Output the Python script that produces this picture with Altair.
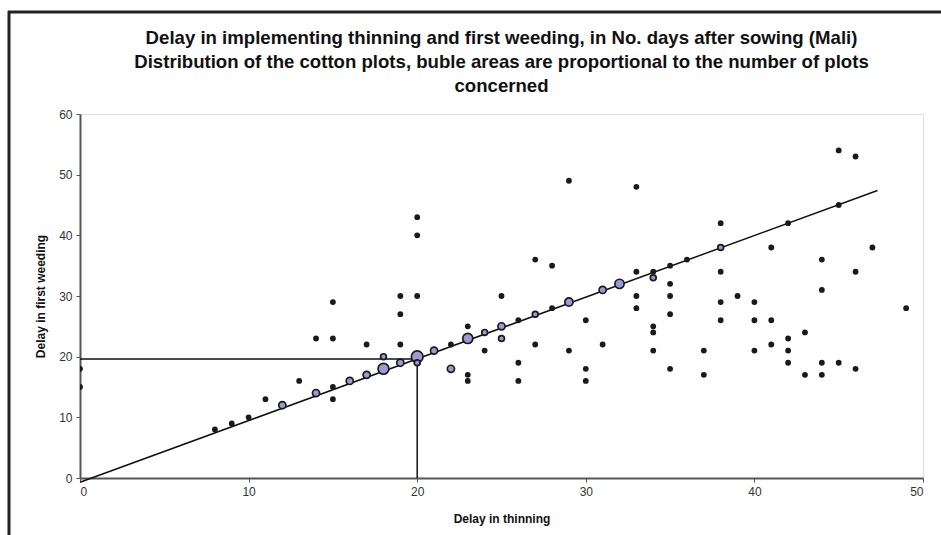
import altair as alt
import pandas as pd

# Delay in thinning (days after sowing)
thin_days = [0, 0, 8, 9, 10, 11, 12, 13, 14, 14, 15, 15, 15, 15, 16, 17, 17, 18, 18, 19,
             19, 19, 19, 20, 20, 20, 20, 20, 21, 22, 22, 23, 23, 23, 23, 24, 24, 25, 25, 25,
             26, 26, 26, 27, 27, 27, 28, 28, 29, 29, 29, 30, 30, 30, 31, 31, 32, 33, 33, 33,
             33, 34, 34, 34, 34, 34, 35, 35, 35, 35, 35, 36, 37, 37, 38, 38, 38, 38, 38, 39,
             40, 40, 40, 41, 41, 41, 42, 42, 42, 42, 43, 43, 44, 44, 44, 44, 45, 45, 45, 46,
             46, 46, 47, 49]
# Delay in first weeding (days after sowing)
weed_days = [18, 15, 8, 9, 10, 13, 12, 16, 14, 23, 29, 23, 15, 13, 16, 17, 22, 18, 20, 19,
             30, 27, 22, 20, 19, 43, 40, 30, 21, 22, 18, 23, 25, 17, 16, 24, 21, 25, 23, 30,
             26, 19, 16, 27, 36, 22, 28, 35, 29, 49, 21, 26, 18, 16, 31, 22, 32, 48, 34, 30,
             28, 34, 33, 25, 24, 21, 35, 32, 30, 27, 18, 36, 21, 17, 38, 42, 34, 29, 26, 30,
             29, 26, 21, 38, 26, 22, 42, 23, 21, 19, 24, 17, 36, 31, 19, 17, 54, 45, 19, 53,
             34, 18, 38, 28]
# Number of plots concerned (bubble area)
n_plots = [1, 1, 1, 1, 1, 1, 3, 1, 3, 1, 1, 1, 1, 1, 3, 3, 1, 7, 2, 3,
           1, 1, 1, 8, 2, 1, 1, 1, 3, 1, 3, 6, 1, 1, 1, 2, 1, 3, 2, 1,
           1, 1, 1, 2, 1, 1, 1, 1, 4, 1, 1, 1, 1, 1, 3, 1, 5, 1, 1, 1,
           1, 1, 2, 1, 1, 1, 1, 1, 1, 1, 1, 1, 1, 1, 2, 1, 1, 1, 1, 1,
           1, 1, 1, 1, 1, 1, 1, 1, 1, 1, 1, 1, 1, 1, 1, 1, 1, 1, 1, 1,
           1, 1, 1, 1]

# Linear trend line end points
trend_x = [0, 47.3]
trend_y = [-0.7, 47.4]
# Reference lines at thinning = 20 days
ref_x = [0, 20, 20]
ref_y = [19.6, 19.6, 0]
ref_order = [0, 1, 2]

pts = pd.DataFrame({"x": thin_days, "y": weed_days, "n": n_plots})
pts["single"] = pts["n"] == 1
trend = pd.DataFrame({"x": trend_x, "y": trend_y})
ref = pd.DataFrame({"x": ref_x, "y": ref_y, "o": ref_order})

FONT = "Liberation Sans"
xscale = alt.Scale(domain=[0, 50], nice=False, zero=False)
yscale = alt.Scale(domain=[0, 60], nice=False, zero=False)

xaxis = alt.Axis(values=[0, 10, 20, 30, 40, 50], grid=False, domainColor="#555555",
                 domainWidth=2, tickColor="#555555", tickSize=4, tickWidth=1,
                 labelFont=FONT, labelFontSize=12, labelColor="#333333", labelPadding=4,
                 title="Delay in thinning", titleFont=FONT, titleFontSize=12,
                 titleFontWeight="bold", titleColor="#111111", titlePadding=16)
yaxis = alt.Axis(values=[0, 10, 20, 30, 40, 50, 60], grid=False, domainColor="#555555",
                 domainWidth=2, tickColor="#555555", tickSize=4, tickWidth=1,
                 labelFont=FONT, labelFontSize=12, labelColor="#333333", labelPadding=4,
                 title="Delay in first weeding", titleFont=FONT, titleFontSize=12,
                 titleFontWeight="bold", titleColor="#111111", titlePadding=11)

points = alt.Chart(pts).mark_point(filled=True, clip=True, stroke="#1a1a1a",
                                   strokeWidth=1.7, opacity=1).encode(
    x=alt.X("x:Q", scale=xscale, axis=xaxis),
    y=alt.Y("y:Q", scale=yscale, axis=yaxis),
    size=alt.Size("n:Q", scale=alt.Scale(type="linear", domain=[0, 8], range=[0, 136]),
                  legend=None),
    fill=alt.condition("datum.single", alt.value("#1a1a1a"), alt.value("#9A9AD6")),
)

trend_line = alt.Chart(trend).mark_line(color="#111111", strokeWidth=1.5, clip=False).encode(
    x=alt.X("x:Q", scale=xscale), y=alt.Y("y:Q", scale=yscale))

ref_line = alt.Chart(ref).mark_line(color="#111111", strokeWidth=1.5).encode(
    x=alt.X("x:Q", scale=xscale), y=alt.Y("y:Q", scale=yscale), order="o:Q")

one = pd.DataFrame({"a": [0]})
frame_left = alt.Chart(one).mark_rule(color="#222222", strokeWidth=3).encode(
    x=alt.value(-71), y=alt.value(-103), y2=alt.value(440))
frame_top = alt.Chart(one).mark_rule(color="#222222", strokeWidth=3).encode(
    x=alt.value(-72), x2=alt.value(880), y=alt.value(-102))

chart = alt.layer(frame_left, frame_top, ref_line, trend_line, points).properties(
    width=843, height=364,
    padding={"left": 80, "top": 114, "right": 18, "bottom": 57},
    autosize=alt.AutoSizeParams(type="none"),
    title=alt.TitleParams(
        text=["Delay in implementing thinning and first weeding, in No. days after sowing (Mali)",
              "Distribution of the cotton plots, buble areas are proportional to the number of plots",
              "concerned"],
        font=FONT, fontSize=18.6, fontWeight="bold", color="#111111", lineHeight=24,
        anchor="middle", offset=-86),
).configure_view(stroke="#999999", strokeWidth=2).configure(background="white")

chart.save("out.html", embed_options={"renderer": "svg", "actions": False})
